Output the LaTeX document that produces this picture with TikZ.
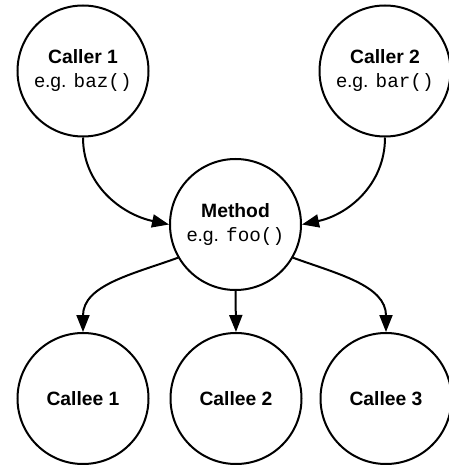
\documentclass[tikz,border=0pt]{standalone}
\usepackage{fontspec}
\setmainfont{Liberation Sans}
\setmonofont{Liberation Mono}
\usetikzlibrary{arrows.meta}
\begin{document}
\begin{tikzpicture}[x=1pt,y=-1pt,
  ball/.style={circle,draw=black,line width=2pt,minimum size=131pt,inner sep=0pt,align=center,
    font=\fontsize{19.3}{24}\selectfont},
  conn/.style={line width=2pt,-{Triangle[length=17pt,width=13pt]}}]
\useasboundingbox (0,0) rectangle (448,465);
\node[ball] (c1) at (83,71) {\textbf{Caller 1}\\e.g. \texttt{baz()}};
\node[ball] (c2) at (385,71) {\textbf{Caller 2}\\e.g. \texttt{bar()}};
\node[ball] (m) at (235.5,224.5) {\textbf{Method}\\e.g. \texttt{foo()}};
\node[ball] (e1) at (83,398.5) {\textbf{Callee 1}};
\node[ball] (e2) at (236,398.5) {\textbf{Callee 2}};
\node[ball] (e3) at (386,398.5) {\textbf{Callee 3}};
\draw[conn] (c1.south) to[out=-90,in=168] (m.west);
\draw[conn] (c2.south) to[out=-90,in=12] (m.east);
\draw[conn] (m.210) to[out=200,in=90] (e1.north);
\draw[conn] (m.south) -- (e2.north);
\draw[conn] (m.-30) to[out=-20,in=90] (e3.north);
\end{tikzpicture}
\end{document}
